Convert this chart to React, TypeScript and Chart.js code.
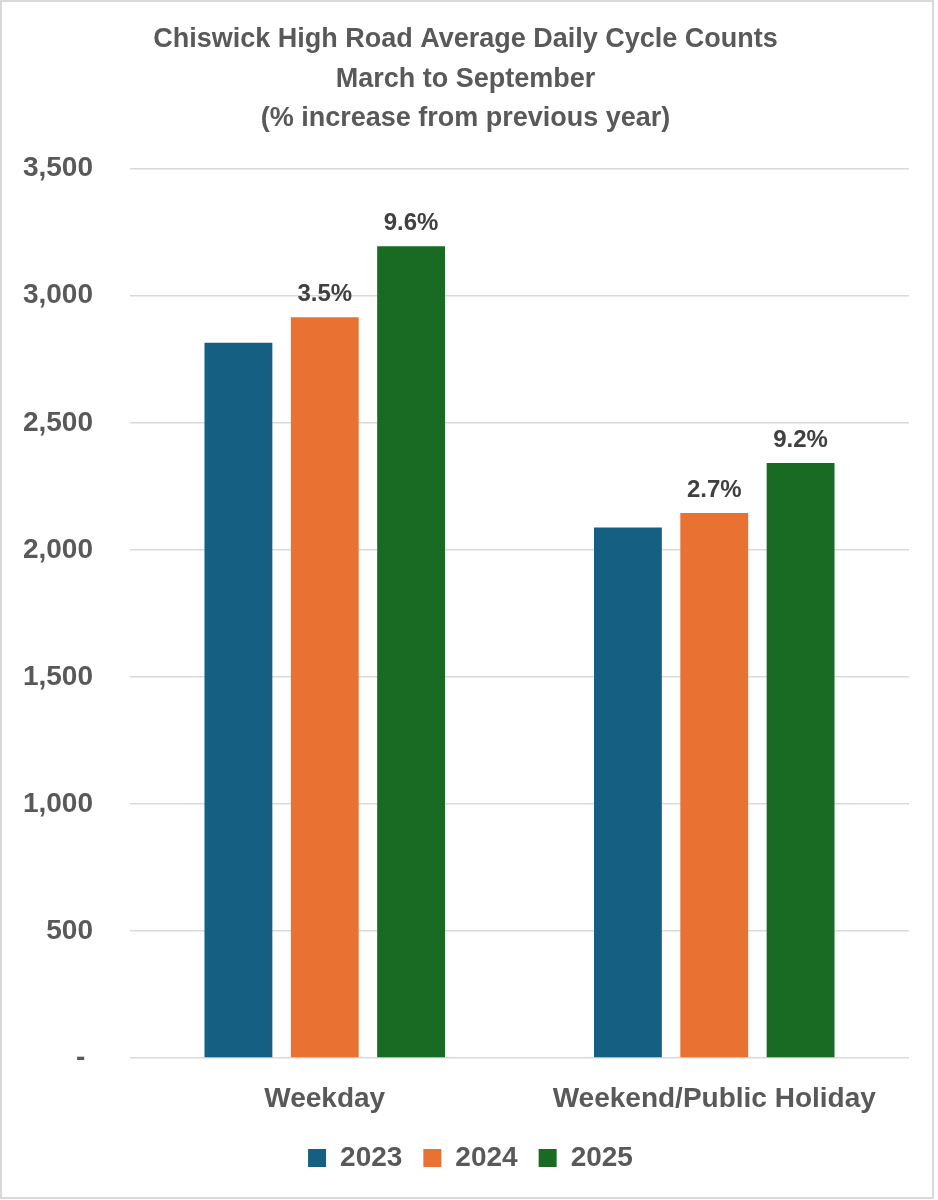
import { useEffect, useRef } from "react"
import { Chart, registerables } from "chart.js"

Chart.register(...registerables)

const categories = ["Weekday", "Weekend/Public Holiday"]
const years = ["2023", "2024", "2025"]
const counts2023 = [2815, 2088]
const counts2024 = [2915, 2145]
const counts2025 = [3195, 2342]
// % increase from previous year, shown above the 2024 and 2025 bars
const pct2023: (string | null)[] = [null, null]
const pct2024 = ["3.5%", "2.7%"]
const pct2025 = ["9.6%", "9.2%"]
const yMax = 3500
const yStep = 500

const titleLines = [
  "Chiswick High Road Average Daily Cycle Counts",
  "March to September",
  "(% increase from previous year)",
]

const colors = ["#156082", "#E97132", "#196B24"]
const textGray = "#595959"
const fontFamily = "'Liberation Sans', Arial, sans-serif"

const frameAndBackground = {
  id: "frameAndBackground",
  beforeDraw(chart: Chart) {
    const { ctx, width, height } = chart
    ctx.save()
    ctx.fillStyle = "#ffffff"
    ctx.fillRect(0, 0, width, height)
    ctx.strokeStyle = "#d9d9d9"
    ctx.lineWidth = 2
    ctx.strokeRect(1, 1, 932, height - 3)
    ctx.restore()
  },
}

// nudge the legend row a little to the right, like the original
const legendShift = {
  id: "legendShift",
  afterLayout(chart: Chart) {
    const legend: any = (chart as any).legend
    if (legend) {
      legend.left += 5
      legend.right += 5
    }
  },
}

const pctLabels = {
  id: "pctLabels",
  afterDatasetsDraw(chart: Chart) {
    const { ctx } = chart
    const labelSets = [pct2023, pct2024, pct2025]
    ctx.save()
    ctx.font = `bold 24px ${fontFamily}`
    ctx.fillStyle = "#404040"
    ctx.textAlign = "center"
    ctx.textBaseline = "middle"
    chart.data.datasets.forEach((_, i) => {
      const meta = chart.getDatasetMeta(i)
      meta.data.forEach((bar: any, j: number) => {
        const text = labelSets[i][j]
        if (text) ctx.fillText(text, bar.x, bar.y - 23)
      })
    })
    ctx.restore()
  },
}

export default function App() {
  const chartRef = useRef<HTMLCanvasElement>(null)
  const chartInstance = useRef<Chart | null>(null)

  useEffect(() => {
    if (!chartRef.current) return
    if (chartInstance.current) chartInstance.current.destroy()

    const ctx = chartRef.current.getContext("2d")
    if (!ctx) return

    const series = [counts2023, counts2024, counts2025]

    chartInstance.current = new Chart(ctx, {
      type: "bar",
      data: {
        labels: categories,
        datasets: years.map((year, i) => ({
          label: year,
          data: series[i],
          backgroundColor: colors[i],
          borderWidth: 0,
          categoryPercentage: 0.665,
          barPercentage: 0.786,
        })),
      },
      options: {
        responsive: true,
        maintainAspectRatio: false,
        animation: false,
        layout: {
          padding: { left: 22, right: 29, top: 0, bottom: 18 },
        },
        plugins: {
          title: {
            display: true,
            text: titleLines,
            color: textGray,
            font: { family: fontFamily, size: 27, weight: "bold", lineHeight: 39.3 / 27 },
            padding: { top: 20.3, bottom: 30.5 },
          },
          legend: {
            position: "bottom",
            labels: {
              color: textGray,
              font: { family: fontFamily, size: 28, weight: "bold" },
              boxWidth: 18,
              boxHeight: 18,
              padding: 21,
            },
          },
          tooltip: { enabled: false },
        },
        scales: {
          x: {
            grid: { display: false, drawTicks: false },
            border: { display: false },
            afterFit: (scale) => {
              scale.height = 65
            },
            ticks: {
              color: textGray,
              padding: 16,
              font: { family: fontFamily, size: 28, weight: "bold", lineHeight: 50 / 28 },
            },
          },
          y: {
            min: 0,
            max: yMax,
            afterFit: (scale) => {
              scale.width = 108
            },
            grid: { color: "#d9d9d9", lineWidth: 1.5, drawTicks: false },
            border: { display: false },
            ticks: {
              stepSize: yStep,
              color: textGray,
              padding: 37,
              font: { family: fontFamily, size: 28, weight: "bold" },
              callback: (value) => (Number(value) === 0 ? "- " : Number(value).toLocaleString("en-US")),
            },
          },
        },
      },
      plugins: [frameAndBackground, legendShift, pctLabels],
    })

    return () => {
      if (chartInstance.current) {
        chartInstance.current.destroy()
        chartInstance.current = null
      }
    }
  }, [])

  return (
    <div style={{ position: "absolute", left: 0, top: 0, width: 938, height: 1200 }}>
      <canvas ref={chartRef} />
    </div>
  )
}
